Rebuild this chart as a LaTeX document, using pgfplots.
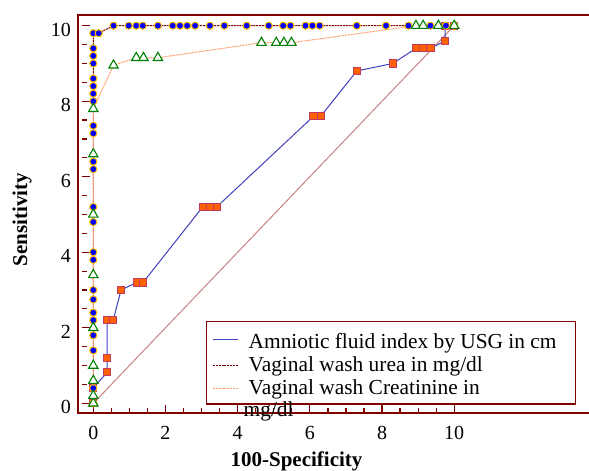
\documentclass[border=0pt]{standalone}
\usepackage{fontspec}
\setmainfont{Liberation Serif}
\usepackage{pgfplots}
\pgfplotsset{compat=1.18}
\definecolor{axred}{RGB}{128,0,0}
\definecolor{amnline}{RGB}{64,64,190}
\definecolor{sqfill}{RGB}{255,96,0}
\definecolor{sqdraw}{RGB}{190,60,100}
\definecolor{ureaedge}{RGB}{255,190,0}
\definecolor{creline}{RGB}{255,160,110}
\definecolor{trigreen}{RGB}{0,128,0}
\definecolor{diagc}{RGB}{200,130,130}
\begin{document}
\begin{tikzpicture}
\begin{axis}[
  scale only axis, width=257.5pt, height=199pt,
  xmin=-0.424, xmax=13.845, ymin=-0.257, ymax=10.283,
  clip=false,
  axis line style={axred, line width=0.7pt},
  xtick={0,2,...,10}, ytick={0,2,...,10},
  minor xtick={0.5,1,...,9.5}, minor ytick={0.5,1,...,9.5},
  xtick pos=left, ytick pos=left,
  tick align=inside, major tick length=4pt, minor tick length=2.5pt,
  tick style={axred, line width=0.6pt},
  every y tick/.append style={xshift=2pt},
  /pgf/number format/assume math mode=true,
  tick label style={font=\fontsize{10}{12}\selectfont},
  xticklabel style={yshift=-3pt},
  yticklabel style={yshift=-2pt},
  xlabel={100-Specificity}, ylabel={Sensitivity},
  label style={font=\fontsize{10.5}{12}\selectfont\bfseries},
  xlabel style={at={(axis description cs:0.4243,-0.1219)}, anchor=center},
  ylabel style={at={(axis description cs:-0.1087,0.486)}, anchor=center},
  legend style={at={(axis description cs:0.2485,0.2319)}, anchor=north west,
    draw=axred, line width=0.7pt, fill=white,
    font=\fontsize{10.7}{12}\selectfont, cells={anchor=west},
    row sep=-1.5pt, inner xsep=3pt, inner ysep=1.5pt},
  legend image code/.code={\draw[#1, line width=0.5pt] (0pt,0pt) -- (12.5pt,0pt);},
]
\addplot[diagc, line width=0.5pt, forget plot] coordinates {(0,0) (10,10)};

\addplot[amnline, line width=0.5pt, mark=square*, mark size=1.8pt,
  mark options={fill=sqfill, draw=sqdraw, line width=0.5pt}] coordinates {
(0,0) (0,0.4) (0.38,0.82) (0.38,1.2) (0.38,2.2) (0.55,2.2) (0.77,3.0)
(1.2,3.2) (1.38,3.2) (3.03,5.2) (3.23,5.2) (3.42,5.2) (6.1,7.6) (6.3,7.6)
(7.3,8.8) (8.3,9.0) (8.94,9.4) (9.14,9.4) (9.34,9.4) (9.75,9.6) (9.75,10) (10,10)
};
\addlegendentry{\hspace*{3pt}\rule[-3pt]{0pt}{13pt}Amniotic fluid index by USG in cm\hspace*{4.5pt}}

\addplot[axred, line width=0.5pt, dash pattern=on 1pt off 0.4pt, mark=*, mark size=1.8pt,
  mark options={solid, fill=blue, draw=ureaedge, line width=0.5pt}] coordinates {
(0,0) (0,0.4) (0,1.4) (0,1.8) (0,2.2) (0,2.4) (0,2.75) (0,3.0) (0,3.8) (0,4.0)
(0,4.8) (0,5.2) (0,6.2) (0,6.4) (0,7.15) (0,7.35) (0,8.0) (0,8.2) (0,8.4) (0,8.6)
(0,9.0) (0,9.2) (0,9.4) (0,9.8) (0.15,9.8) (0.56,10) (0.98,10) (1.19,10) (1.37,10)
(1.79,10) (2.2,10) (2.4,10) (2.6,10) (2.82,10) (3.23,10) (3.63,10) (4.25,10)
(4.86,10) (5.26,10) (5.46,10) (5.88,10) (6.07,10) (6.27,10) (7.3,10) (8.11,10)
(8.73,10) (9.34,10) (9.77,10) (10,10)
};
\addlegendentry{\hspace*{3pt}Vaginal wash urea in mg/dl}

\addplot[creline, line width=0.5pt, dash pattern=on 1pt off 0.4pt, mark=triangle*, mark size=2.7pt,
  mark options={solid, fill=white, draw=trigreen, line width=0.55pt}] coordinates {
(0,0) (0,0.2) (0,0.6) (0,1.0) (0,2.0) (0,3.4) (0,5.0) (0,6.6) (0,7.8)
(0.56,8.95) (1.19,9.15) (1.39,9.15) (1.79,9.15) (4.66,9.55) (5.07,9.55)
(5.28,9.55) (5.49,9.55) (8.94,10) (9.14,10) (9.56,10) (10,10)
};
\addlegendentry{\hspace*{3pt}\makebox[0pt][l]{\hspace*{-2.5pt}\raisebox{-11pt}[0pt][0pt]{mg/dl}}Vaginal wash Creatinine in}

\coordinate (bl) at (rel axis cs:0,0);
\coordinate (tr) at (rel axis cs:1,1);
\end{axis}
\pgfresetboundingbox
\path[use as bounding box] ([xshift=-39pt,yshift=-29pt]bl) rectangle ([yshift=7.5pt,xshift=-2pt]tr);
\end{tikzpicture}
\end{document}
